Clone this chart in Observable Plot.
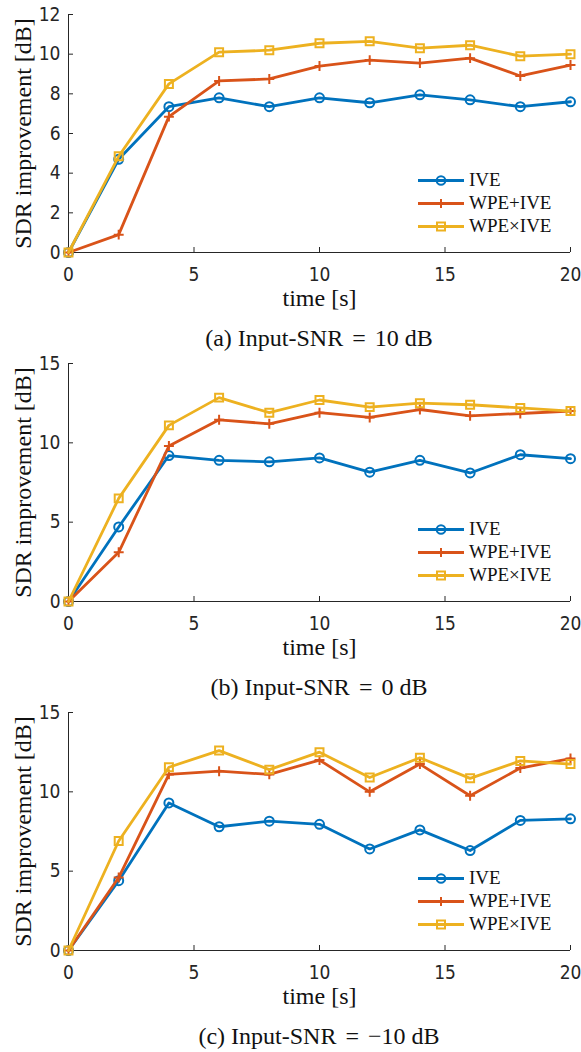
<!DOCTYPE html>
<html><head><meta charset="utf-8">
<script src="https://cdn.jsdelivr.net/npm/d3@7"></script>
<script src="https://cdn.jsdelivr.net/npm/@observablehq/plot@0.6"></script>
<style>
html,body{margin:0;background:#fff;}
body{min-height:1052px;}
.panel{position:relative;width:581px;height:349px;}
.panel svg.chart{display:block;background:transparent;}
.legend{position:absolute;left:418px;top:168.5px;font-family:"Liberation Serif",serif;font-size:19px;color:#111;}
.row{height:23px;display:flex;align-items:center;}
.row svg{margin-right:5px;}
.cap{position:absolute;left:68px;width:502px;top:323.5px;text-align:center;font-family:"Liberation Serif",serif;font-size:24px;line-height:28px;color:#111;white-space:pre;z-index:2;}
.cap .eq{padding:0 3px;}
</style></head><body><div id="root"></div>
<script>
const times = [0, 2, 4, 6, 8, 10, 12, 14, 16, 18, 20];
const xTicks = [0, 5, 10, 15, 20];
const seriesNames = ["IVE", "WPE+IVE", "WPE×IVE"];
const seriesColors = ["#0072BD", "#D95319", "#EDB120"];
const seriesSymbols = ["circle", "plus", "square"];

// (a) Input-SNR = 10 dB
const iveA      = [0, 4.7, 7.35, 7.8, 7.35, 7.8, 7.55, 7.95, 7.7, 7.35, 7.6];
const wpePlusA  = [0, 0.9, 6.85, 8.65, 8.75, 9.4, 9.7, 9.55, 9.8, 8.9, 9.45];
const wpeTimesA = [0, 4.85, 8.5, 10.1, 10.2, 10.55, 10.65, 10.3, 10.45, 9.9, 10.0];
// (b) Input-SNR = 0 dB
const iveB      = [0, 4.7, 9.2, 8.9, 8.8, 9.05, 8.15, 8.9, 8.1, 9.25, 9.0];
const wpePlusB  = [0, 3.1, 9.8, 11.45, 11.2, 11.9, 11.6, 12.1, 11.7, 11.85, 12.0];
const wpeTimesB = [0, 6.5, 11.1, 12.85, 11.9, 12.7, 12.25, 12.5, 12.4, 12.2, 12.0];
// (c) Input-SNR = -10 dB
const iveC      = [0, 4.4, 9.3, 7.8, 8.15, 7.95, 6.4, 7.6, 6.3, 8.2, 8.3];
const wpePlusC  = [0, 4.6, 11.1, 11.3, 11.1, 12.0, 10.0, 11.75, 9.75, 11.5, 12.1];
const wpeTimesC = [0, 6.9, 11.55, 12.6, 11.4, 12.5, 10.9, 12.15, 10.85, 11.95, 11.75];

const captionTags = ["(a)", "(b)", "(c)"];
const captionSNR = ["10", "0", "\u221210"];
const yMaxes = [12, 15, 15];
const yTickSets = [[0, 2, 4, 6, 8, 10, 12], [0, 5, 10, 15], [0, 5, 10, 15]];
const panelSeries = [[iveA, wpePlusA, wpeTimesA], [iveB, wpePlusB, wpeTimesB], [iveC, wpePlusC, wpeTimesC]];

const xLabel = "time [s]";
const yLabel = "SDR improvement [dB]";
const axisColor = "#262626";
const tickFont = "Liberation Sans Narrow, DejaVu Sans Condensed, Liberation Sans, Arial, sans-serif";
const serifFont = "Liberation Serif, Times New Roman, serif";

const root = document.getElementById("root");

function swatch(i) {
  const c = seriesColors[i];
  let m = "";
  if (i === 0) m = `<circle cx="23" cy="11.5" r="4.3" fill="none" stroke="${c}" stroke-width="2"/>`;
  if (i === 1) m = `<path d="M18.5 11.5H27.5M23 7V16" stroke="${c}" stroke-width="2"/>`;
  if (i === 2) m = `<rect x="19" y="7.5" width="8" height="8" fill="none" stroke="${c}" stroke-width="2"/>`;
  return `<svg width="46" height="23"><line x1="0" x2="46" y1="11.5" y2="11.5" stroke="${c}" stroke-width="2.8"/>${m}</svg>`;
}

panelSeries.forEach((series, p) => {
  const marks = [
    Plot.ruleY([0], {stroke: axisColor, strokeWidth: 1}),
    Plot.ruleX([0], {stroke: axisColor, strokeWidth: 1}),
    Plot.axisX(xTicks, {tickSize: -5, tickPadding: 20, tickFormat: d => String(d), fontSize: 19, fontFamily: tickFont, fill: axisColor, stroke: axisColor, label: null}),
    Plot.axisY(yTickSets[p], {tickSize: -5, tickPadding: 13, tickFormat: d => String(d), fontSize: 19, fontFamily: tickFont, fill: axisColor, stroke: axisColor, label: null}),
    Plot.text([xLabel], {frameAnchor: "bottom", lineAnchor: "middle", textAnchor: "middle", dy: 46, fontSize: 24, fontFamily: serifFont, fill: "#111"}),
    Plot.text([yLabel], {frameAnchor: "left", lineAnchor: "middle", textAnchor: "middle", dx: -45, rotate: -90, fontSize: 24, fontFamily: serifFont, fill: "#111"})
  ];
  series.forEach((vals, s) => {
    const data = times.map((t, i) => ({t, v: vals[i]}));
    marks.push(Plot.line(data, {x: "t", y: "v", stroke: seriesColors[s], strokeWidth: 2.8}));
    marks.push(Plot.dot(data, {x: "t", y: "v", symbol: seriesSymbols[s], r: s === 0 ? 4.5 : (s === 1 ? 3.3 : 4.5), stroke: seriesColors[s], fill: "none", strokeWidth: 2}));
  });
  const chart = Plot.plot({
    width: 581, height: 318,
    marginTop: 14, marginBottom: 66, marginLeft: 68, marginRight: 11,
    x: {domain: [0, 20]},
    y: {domain: [0, yMaxes[p]]},
    style: {background: "transparent", overflow: "visible"},
    marks
  });
  chart.classList.add("chart");
  const panel = document.createElement("div");
  panel.className = "panel";
  panel.appendChild(chart);
  const legend = document.createElement("div");
  legend.className = "legend";
  legend.innerHTML = seriesNames.map((n, i) => `<div class="row">${swatch(i)}<span>${n}</span></div>`).join("");
  panel.appendChild(legend);
  const cap = document.createElement("div");
  cap.className = "cap";
  cap.innerHTML = `${captionTags[p]} Input-SNR <span class="eq">=</span> ${captionSNR[p]} dB`;
  panel.appendChild(cap);
  root.appendChild(panel);
});
</script></body></html>
